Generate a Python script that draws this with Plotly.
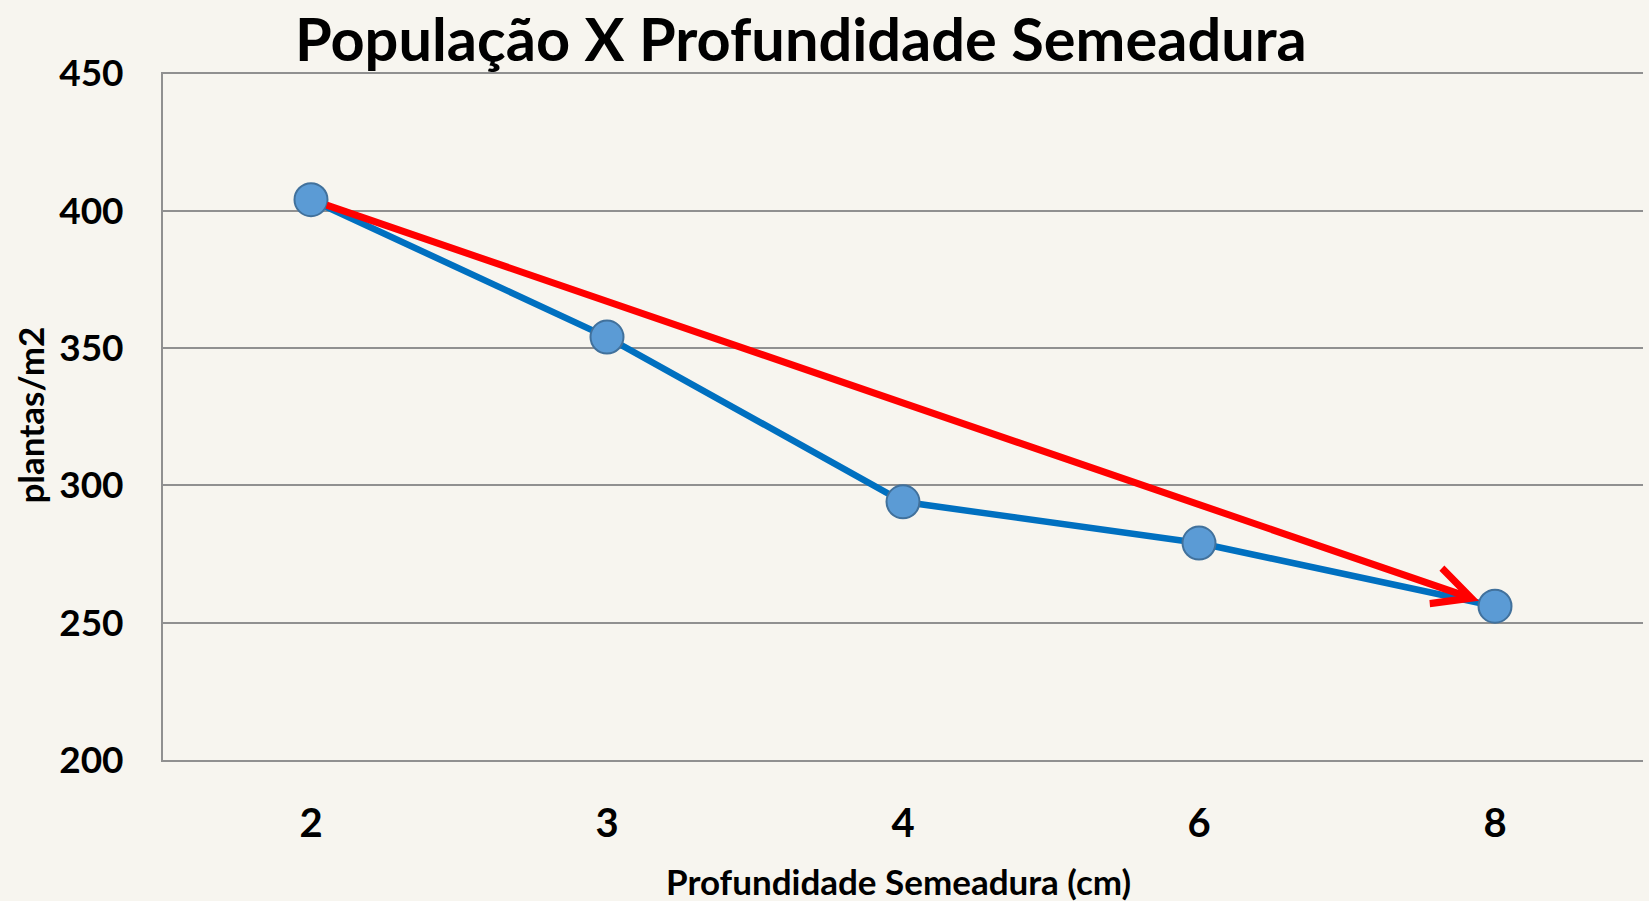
import plotly.graph_objects as go

# Data
depths = ["2", "3", "4", "6", "8"]
plants = [404, 354, 294, 279, 256]

title_text = "População X Profundidade Semeadura"
x_title = "Profundidade Semeadura (cm)"
y_title = "plantas/m2"
y_ticks = [200, 250, 300, 350, 400, 450]

FONT = "Lato"
GRID = "#909090"

W, H = 1649, 901
L, R, T, B = 163, 6, 72, 141
plot_w, plot_h = W - L - R, H - T - B

fig = go.Figure()

fig.add_trace(go.Scatter(
    x=depths, y=plants, mode="lines+markers",
    line=dict(color="#0070C0", width=6.5),
    marker=dict(size=33, color="#5B9BD5", line=dict(color="#41719C", width=2)),
    showlegend=False, hoverinfo="skip",
))

# red trend arrow from first to last point (category positions on the axis)
first_i, last_i = 0, len(depths) - 1
fig.add_annotation(
    x=last_i, y=plants[last_i], ax=first_i, ay=plants[first_i],
    xref="x", yref="y", axref="x", ayref="y",
    text="", showarrow=True,
    arrowhead=5, arrowsize=1.05, arrowwidth=7, arrowcolor="#FF0000",
    standoff=17, startstandoff=15,
)

# chart title (top of its box at the top of the page)
fig.add_annotation(
    text=title_text, xref="paper", yref="paper",
    x=(801 - L) / plot_w, y=1 + T / plot_h,
    showarrow=False, xanchor="center", yanchor="top",
    font=dict(family=FONT, size=59.5, color="black", weight="bold"),
)

# axis titles
fig.add_annotation(
    text=x_title, xref="paper", yref="paper", x=0.497, y=-0.176,
    showarrow=False, xanchor="center", yanchor="middle",
    font=dict(family=FONT, size=35, color="black", weight="bold"),
)
fig.add_annotation(
    text=y_title, xref="paper", yref="paper", x=-0.0899, y=0.502,
    showarrow=False, textangle=-90, xanchor="center", yanchor="middle",
    font=dict(family=FONT, size=35, color="black", weight="bold"),
)

fig.update_layout(
    width=W, height=H,
    margin=dict(l=L, r=R, t=T, b=B),
    paper_bgcolor="#F7F5EF",
    plot_bgcolor="rgba(0,0,0,0)",
    xaxis=dict(
        type="category", range=[-0.5, len(depths) - 0.5],
        showgrid=False, showline=True, linecolor=GRID, linewidth=2,
        ticks="", ticklabelstandoff=27,
        tickfont=dict(family=FONT, size=40, color="black", weight="bold"),
        zeroline=False,
    ),
    yaxis=dict(
        range=[y_ticks[0], y_ticks[-1] + 0.5], tickvals=y_ticks,
        showgrid=True, gridcolor=GRID, gridwidth=2,
        showline=True, linecolor=GRID, linewidth=2,
        ticks="", ticklabelstandoff=30,
        tickfont=dict(family=FONT, size=37, color="black", weight="bold"),
        zeroline=False,
    ),
)

fig.write_html(
    "out.html",
    config={"displayModeBar": False},
    post_script="document.body.style.margin='0';document.body.style.overflow='hidden';",
)
